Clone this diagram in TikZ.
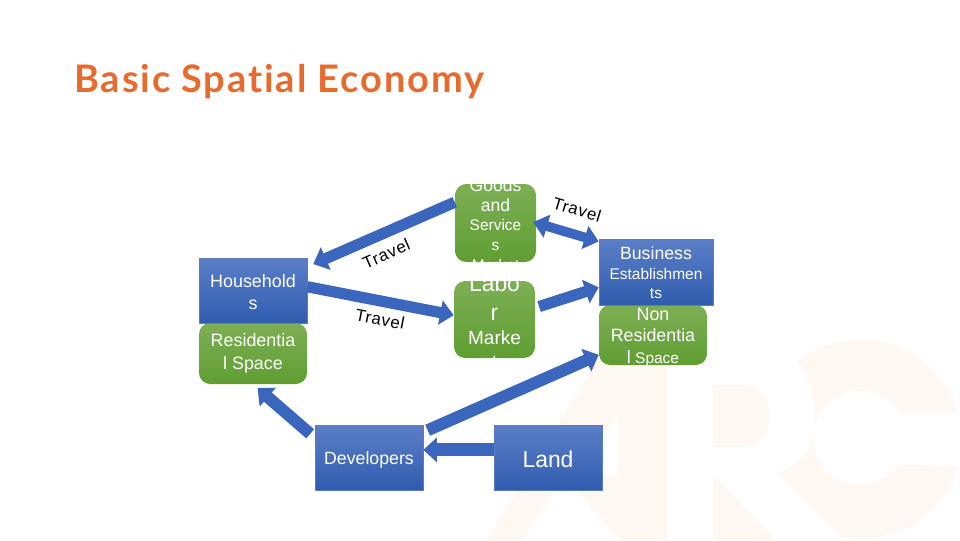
\documentclass[tikz,border=0pt]{standalone}
\usepackage{fontspec}
\setmainfont{Liberation Sans}
\newfontfamily\titlefont[LetterSpace=5,Ligatures=NoCommon]{Lato Bold}
\newfontfamily\travelfont[LetterSpace=4]{Liberation Sans}
\usetikzlibrary{arrows.meta}
\definecolor{arcorange}{RGB}{232,106,45}
\definecolor{arcpeach}{RGB}{255,247,242}
\definecolor{bluetop}{RGB}{91,127,199}
\definecolor{bluebot}{RGB}{48,92,175}
\definecolor{greentop}{RGB}{125,175,85}
\definecolor{greenbot}{RGB}{95,158,50}
\definecolor{arrowblue}{RGB}{58,102,190}
\newcommand{\sized}[2]{{\fontsize{#1}{#1}\selectfont #2}}

\begin{document}
\begin{tikzpicture}[
    bb/.style={draw=bluebot!80!white, line width=0.4pt, top color=bluetop, bottom color=bluebot,
               minimum width=2.7cm, minimum height=1.625cm, inner sep=0pt},
    gb/.style={top color=greentop, bottom color=greenbot, rounded corners=0.28cm,
               minimum width=2.7cm, minimum height=1.525cm, inner sep=0pt},
    cliptext/.style n args={3}{path picture={\node[white, align=center, inner sep=0pt, yshift=#2, font=\fontsize{#1}{#1}\selectfont]
               at (path picture bounding box.center) {#3};}},
    a/.style={draw=arrowblue, line width=0.28cm, -{Triangle[width=0.6cm,length=0.34cm]}},
    aa/.style={draw=arrowblue, line width=0.24cm, {Triangle[width=0.58cm,length=0.36cm]}-{Triangle[width=0.58cm,length=0.36cm]}},
    t/.style={black, font=\fontsize{12}{12}\selectfont\travelfont, inner sep=0pt, sloped}]

    \useasboundingbox (0,0) rectangle (24,13.5);

    \begin{scope}[x=0.025cm, y=-0.025cm, yshift=13.5cm]
      \fill[arcpeach, even odd rule] (487,540) -- (598,360) -- (667,360) -- (667,540) -- (620,540) -- (577,490)
          -- (554,490) -- (523,540) -- cycle
          (618,413) -- (618,476) -- (579,476) -- cycle;
      \fill[arcpeach] (713,385) -- (740,385) .. controls (760,385) and (770,400) .. (770,416)
          .. controls (770,435) and (757,447) .. (740,447) -- (713,447) -- cycle;
      \fill[arcpeach] (713,475) -- (777,540) -- (713,540) -- cycle;
      \fill[arcpeach] (798,362) arc[start angle=-129, end angle=-15.5, radius=100] -- (900,413)
          arc[start angle=-32, end angle=-325, radius=47] -- (958,466)
          arc[start angle=16, end angle=103, radius=100] -- (778,473)
          .. controls (800,465) and (815,450) .. (815,413)
          .. controls (815,393) and (808,375) .. (798,362) -- cycle;
    \end{scope}

    \node[anchor=west, inner sep=0pt, text=arcorange, font=\titlefont\fontsize{27}{27}\selectfont] (title) at (1.85,11.45) {Basic Spatial Economy};

    \node[gb] (res) at (6.325,4.6625) {};
    \node[bb] (hh) at (6.325,6.2375) {};
    \node[gb, minimum width=2.025cm, minimum height=1.95cm] (goods) at (12.3875,7.925) {};
    \node[gb, minimum width=2.025cm, minimum height=1.925cm] (labor) at (12.3625,5.5125) {};
    \node[gb, minimum height=1.5cm] (nonres) at (16.325,5.125) {};
    \node[bb, minimum width=2.85cm, minimum height=1.65cm] (biz) at (16.4,6.7) {};
    \node[bb] (dev) at (9.225,2.0625) {};
    \node[bb] (land) at (13.7,2.0625) {};

    \node[white, align=center, inner sep=0pt, yshift=-0.03cm, font=\fontsize{12.75}{15.8}\selectfont] (hhtxt) at (hh) {Household\\s};
    \node[white, align=center, inner sep=0pt, font=\fontsize{12.75}{16.4}\selectfont] (restxt) at (res) {Residentia\\l Space};
    \node[white, inner sep=0pt, yshift=-0.06cm, font=\fontsize{12.6}{14}\selectfont] (devtxt) at (dev) {Developers};
    \node[white, inner sep=0pt, yshift=-0.05cm, font=\fontsize{16.3}{20}\selectfont] (landtxt) at (land) {Land};

    \path (goods.center) node[minimum width=2.025cm, minimum height=1.95cm, rounded corners=0.28cm, inner sep=0pt,
        cliptext={14}{-0.04cm}{\sized{12.5}{Goods}\\\sized{12.5}{and}\\\sized{11}{Service}\\\sized{11}{s}\\\sized{11}{Market}}] (goodstxt) {};
    \path (labor.center) node[minimum width=2.025cm, minimum height=1.925cm, rounded corners=0.28cm, inner sep=0pt,
        cliptext={17}{-0.05cm}{\sized{16.3}{Labo}\\[3.5pt]\sized{16.3}{r}\\\sized{13.5}{Marke}\\\sized{13.5}{t}}] (labortxt) {};
    \path (biz.center) node[minimum width=2.85cm, minimum height=1.65cm, inner sep=0pt,
        cliptext={14}{-0.02cm}{\sized{12.6}{Business}\\\sized{11}{Establishmen}\\\sized{11}{ts}}] (biztxt) {};
    \path (nonres.center) node[minimum width=2.7cm, minimum height=1.5cm, rounded corners=0.28cm, inner sep=0pt,
        cliptext={15}{-0.06cm}{\sized{12.7}{Non}\\\sized{12.7}{Residentia}\\\sized{12.7}{l}\sized{11}{ Space}}] (nonrestxt) {};

    \draw[a] (goods.153) -- node[t, below=0.2cm, pos=0.54] (t1) {Travel} ([xshift=0.15cm]hh.26);
    \draw[a] (hh.4) -- node[t, below=0.15cm, pos=0.52] (t2) {Travel} (labor.174);
    \draw[a, shorten <=0.1cm] (labor.16) -- (biz.195);
    \draw[aa, shorten <=-0.08cm] (goods.0) -- node[t, above=0.34cm, pos=0.54] (t3) {Travel} (biz.152);
    \draw[a, line width=0.3cm, shorten <=0.12cm] (dev.25) -- (nonres.200);
    \draw[a, line width=0.32cm] (land.172) -- (dev.8);
    \draw[a, line width=0.3cm, shorten <=0.15cm, shorten >=0.15cm] (dev.160) -- (res.south);
  \end{tikzpicture}
\end{document}
